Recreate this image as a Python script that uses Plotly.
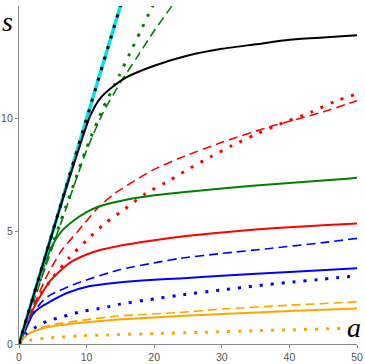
import plotly.graph_objects as go

# Data
cyan_a = [0, 16]
cyan_s = [0, 16]

black_a = [0, 4, 7, 9, 10.5, 12, 14, 16, 20, 25, 30, 35, 40, 45, 50]
black_s = [0, 4, 6.95, 8.8, 10.1, 10.9, 11.45, 11.85, 12.35, 12.8, 13.1, 13.3, 13.5, 13.6, 13.7]

green_dot_a = [0, 4, 7.3, 10, 12.5, 14.8, 16.4, 18, 19.6, 20.6]
green_dot_s = [0, 3.6, 6.4, 8.7, 10.5, 11.9, 12.9, 13.9, 14.9, 15.5]

green_dash_a = [0, 4, 7.3, 10, 12.5, 15, 17.4, 20, 22.6, 24]
green_dash_s = [0, 3.5, 6.3, 8.6, 10.3, 11.6, 12.7, 13.9, 15.0, 15.6]

green_a = [0, 2, 3.5, 4.8, 6.3, 8.2, 10, 11.7, 15, 20, 23.8, 30, 35, 40, 47, 50]
green_s = [0, 1.95, 3.3, 4.3, 5.0, 5.5, 5.85, 6.09, 6.35, 6.6, 6.72, 6.9, 7.03, 7.15, 7.3, 7.38]

red_a = [0, 1, 2, 3, 4.6, 7.5, 10, 12, 14.4, 20, 25, 30, 35, 40, 45, 50]
red_s = [0, 0.9, 1.5, 2.05, 2.8, 3.6, 3.97, 4.17, 4.33, 4.6, 4.8, 4.95, 5.08, 5.18, 5.27, 5.35]

red_dash_a = [0, 1, 2, 4, 6.3, 8.7, 11.7, 14, 17.4, 20, 23.8, 30, 37.1, 45, 50]
red_dash_s = [0, 0.8, 1.55, 2.95, 4.15, 5.0, 6.05, 6.65, 7.3, 7.75, 8.25, 8.95, 9.64, 10.3, 10.8]

red_dot_a = [0, 2, 5, 7.5, 10, 12.7, 15.7, 18.6, 22.5, 25, 28.3, 31.5, 34.8, 38.1, 43.3, 46.6, 50]
red_dot_s = [0, 1.65, 2.95, 3.85, 4.6, 5.35, 6.0, 6.65, 7.3, 7.75, 8.3, 8.8, 9.27, 9.7, 10.3, 10.75, 11.1]

blue_a = [0, 1, 2, 3, 4.6, 7, 10.5, 14.4, 20, 23.8, 30, 40, 50]
blue_s = [0, 0.65, 1.3, 1.6, 1.88, 2.25, 2.57, 2.72, 2.85, 2.91, 3.03, 3.2, 3.36]

blue_dash_a = [0, 1, 2, 3.6, 4.6, 8.5, 14.7, 20, 23.8, 30, 37.1, 45, 50]
blue_dash_s = [0, 0.85, 1.35, 1.95, 2.17, 2.69, 3.28, 3.6, 3.8, 4.02, 4.24, 4.5, 4.69]

blue_dot_a = [0, 1.1, 2.6, 4.3, 6.1, 7.8, 9.5, 11.5, 13.2, 14.9, 20, 23.8, 30, 35, 40, 45, 50]
blue_dot_s = [0, 0.47, 0.77, 1.03, 1.18, 1.33, 1.46, 1.55, 1.65, 1.77, 2.0, 2.17, 2.4, 2.58, 2.74, 2.88, 3.03]

orange_a = [0, 1, 2.1, 4.6, 9.5, 14.7, 23.8, 30, 40, 50]
orange_s = [0, 0.35, 0.55, 0.77, 0.95, 1.09, 1.24, 1.33, 1.46, 1.57]

orange_dash_a = [0, 1.1, 2.5, 4.6, 9.5, 14.7, 23.8, 30, 40, 50]
orange_dash_s = [0, 0.4, 0.62, 0.84, 1.06, 1.24, 1.4, 1.55, 1.72, 1.87]

orange_dot_a = [0, 1, 1.9, 3.8, 5.6, 9, 13, 20, 27.5, 35, 40, 47.7, 50]
orange_dot_s = [0, 0.1, 0.18, 0.25, 0.3, 0.36, 0.4, 0.46, 0.52, 0.59, 0.63, 0.69, 0.71]

x_ticks = [0, 10, 20, 30, 40, 50]
y_ticks = [0, 5, 10]

GREEN = "#008000"
RED = "#ff0000"
BLUE = "#0000ff"
ORANGE = "#ffa500"

DOT = "3px,8px"
DASH = "9px,5px"

fig = go.Figure()

def add(a, s, color, width, dash="solid"):
    fig.add_trace(go.Scatter(x=a, y=s, mode="lines", line_shape="spline",
                             line=dict(color=color, width=width, dash=dash, smoothing=0.6),
                             hoverinfo="skip", showlegend=False))

add(orange_dot_a, orange_dot_s, ORANGE, 3, DOT)
add(orange_dash_a, orange_dash_s, ORANGE, 1.6, DASH)
add(orange_a, orange_s, ORANGE, 2)
add(blue_dot_a, blue_dot_s, BLUE, 3, DOT)
add(blue_dash_a, blue_dash_s, BLUE, 1.6, DASH)
add(blue_a, blue_s, BLUE, 2)
add(red_dot_a, red_dot_s, RED, 3, DOT)
add(red_dash_a, red_dash_s, RED, 1.6, DASH)
add(red_a, red_s, RED, 2)
add(green_a, green_s, GREEN, 2)
add(green_dash_a, green_dash_s, GREEN, 1.6, DASH)
add(green_dot_a, green_dot_s, GREEN, 3, DOT)
add(cyan_a, cyan_s, "#00e0f0", 3.5)
add(cyan_a, cyan_s, "#000000", 3, DOT)
add(black_a, black_s, "#000000", 2)

axis_common = dict(showgrid=False, zeroline=False, showline=True, automargin=False,
                   linecolor="#8a8a8a", linewidth=1.3, ticks="outside",
                   ticklen=3, tickcolor="#8a8a8a",
                   tickfont=dict(family="Liberation Sans", size=10.5, color="#555555"))

fig.update_xaxes(range=[0, 50], tickvals=x_ticks, **axis_common)
fig.update_yaxes(range=[0, 15], tickvals=y_ticks, **axis_common)

fig.add_annotation(text="<i>s</i>", x=0, y=1, xref="paper", yref="paper",
                   xanchor="center", yanchor="middle", xshift=-12, yshift=-15,
                   showarrow=False,
                   font=dict(family="Liberation Serif", size=28, color="#000000"))
fig.add_annotation(text="<i>a</i>", x=1, y=0, xref="paper", yref="paper",
                   xanchor="center", yanchor="middle", xshift=-3, yshift=17,
                   showarrow=False,
                   font=dict(family="Liberation Serif", size=28, color="#000000"))

fig.update_layout(width=365, height=364, margin=dict(l=19, r=8, t=6, b=20),
                  plot_bgcolor="white", paper_bgcolor="white")

fig.write_html("out.html", config={"displayModeBar": False},
               post_script="document.body.style.margin='0';document.body.style.padding='0';")
